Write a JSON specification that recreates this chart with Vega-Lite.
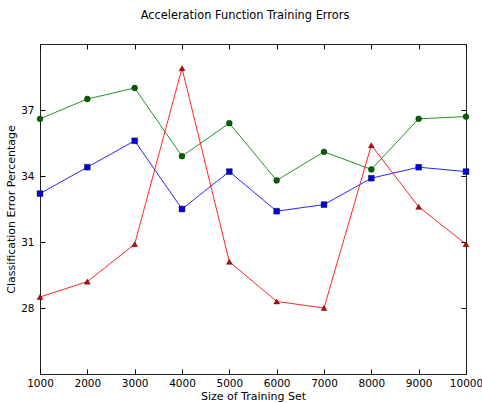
{
  "$schema": "https://vega.github.io/schema/vega-lite/v6.json",
  "autosize": "none",
  "width": 426,
  "height": 330,
  "padding": {"left": 40, "top": 44, "right": 16, "bottom": 29},
  "background": "white",
  "title": {"text": "Acceleration Function Training Errors", "font": "DejaVu Sans", "fontSize": 11.4, "fontWeight": "normal", "color": "#000", "anchor": "middle", "dx": -8, "offset": 13, "baseline": "alphabetic"},
  "config": {
    "view": {"stroke": "#222", "strokeWidth": 1},
    "axis": {"labelFont": "DejaVu Sans", "titleFont": "DejaVu Sans", "labelFontSize": 10.5, "titleFontSize": 11, "titleFontWeight": "normal", "labelColor": "#000", "titleColor": "#000", "grid": false, "domain": false, "tickColor": "#000", "tickSize": -5, "tickWidth": 1}
  },
  "data": {"values": [
    {"series": "green", "size": 1000, "err": 36.6},
    {"series": "green", "size": 2000, "err": 37.5},
    {"series": "green", "size": 3000, "err": 38.0},
    {"series": "green", "size": 4000, "err": 34.9},
    {"series": "green", "size": 5000, "err": 36.4},
    {"series": "green", "size": 6000, "err": 33.8},
    {"series": "green", "size": 7000, "err": 35.1},
    {"series": "green", "size": 8000, "err": 34.3},
    {"series": "green", "size": 9000, "err": 36.6},
    {"series": "green", "size": 10000, "err": 36.7},
    {"series": "blue", "size": 1000, "err": 33.2},
    {"series": "blue", "size": 2000, "err": 34.4},
    {"series": "blue", "size": 3000, "err": 35.6},
    {"series": "blue", "size": 4000, "err": 32.5},
    {"series": "blue", "size": 5000, "err": 34.2},
    {"series": "blue", "size": 6000, "err": 32.4},
    {"series": "blue", "size": 7000, "err": 32.7},
    {"series": "blue", "size": 8000, "err": 33.9},
    {"series": "blue", "size": 9000, "err": 34.4},
    {"series": "blue", "size": 10000, "err": 34.2},
    {"series": "red", "size": 1000, "err": 28.5},
    {"series": "red", "size": 2000, "err": 29.2},
    {"series": "red", "size": 3000, "err": 30.9},
    {"series": "red", "size": 4000, "err": 38.9},
    {"series": "red", "size": 5000, "err": 30.1},
    {"series": "red", "size": 6000, "err": 28.3},
    {"series": "red", "size": 7000, "err": 28.0},
    {"series": "red", "size": 8000, "err": 35.4},
    {"series": "red", "size": 9000, "err": 32.6},
    {"series": "red", "size": 10000, "err": 30.9}
  ]},
  "resolve": {"axis": {"x": "independent", "y": "independent"}},
  "layer": [
    {
      "mark": {"type": "line", "strokeWidth": 1, "opacity": 0.85},
      "encoding": {
        "x": {"field": "size", "type": "quantitative", "scale": {"domain": [1000, 10000], "nice": false, "zero": false},
              "axis": {"title": "Size of Training Set", "values": [1000,2000,3000,4000,5000,6000,7000,8000,9000,10000], "format": "d", "labelPadding": 9, "titlePadding": 2, "labelFlush": false}},
        "y": {"field": "err", "type": "quantitative", "scale": {"domain": [25, 40], "nice": false, "zero": false},
              "axis": {"title": "Classification Error Percentage", "values": [28, 31, 34, 37], "labelPadding": 11, "titlePadding": 4}},
        "color": {"field": "series", "type": "nominal", "scale": {"domain": ["green", "blue", "red"], "range": ["#008000", "#0000ff", "#ff0000"]}, "legend": null},
        "detail": {"field": "series"}
      }
    },
    {
      "mark": {"type": "point", "filled": true, "size": 34, "stroke": "#000", "strokeWidth": 0.4, "opacity": 1},
      "encoding": {
        "x": {"field": "size", "type": "quantitative", "axis": {"orient": "top", "title": null, "labels": false, "values": [1000,2000,3000,4000,5000,6000,7000,8000,9000,10000]}},
        "y": {"field": "err", "type": "quantitative", "axis": {"orient": "right", "title": null, "labels": false, "values": [28, 31, 34, 37]}},
        "fill": {"field": "series", "type": "nominal", "scale": {"domain": ["green", "blue", "red"], "range": ["#006400", "#0000e0", "#d40000"]}, "legend": null},
        "shape": {"field": "series", "type": "nominal", "scale": {"domain": ["green", "blue", "red"], "range": ["circle", "square", "triangle-up"]}, "legend": null}
      }
    }
  ]
}
